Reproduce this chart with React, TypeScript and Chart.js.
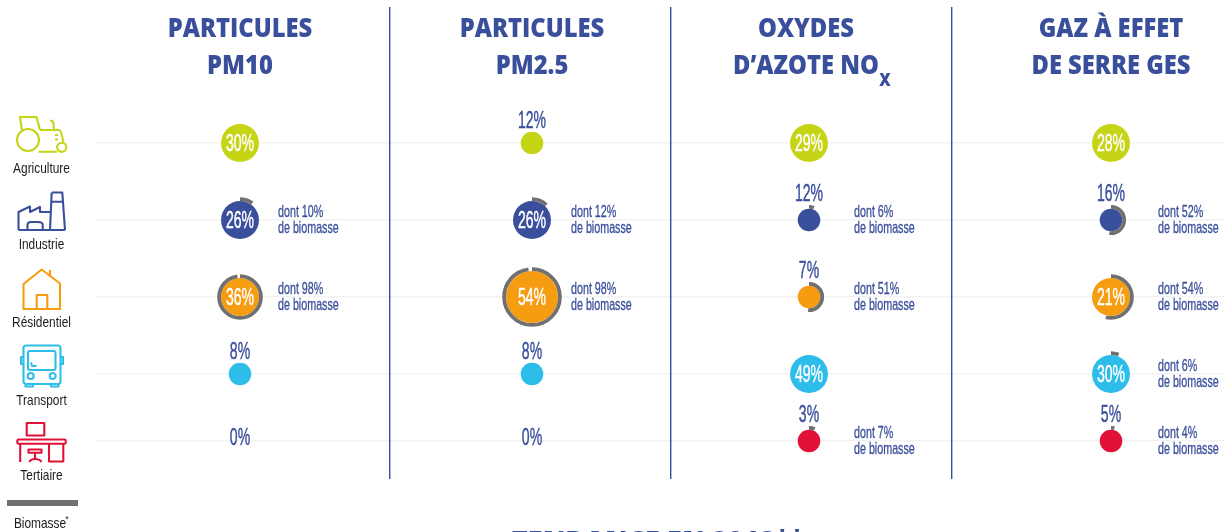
import React, { useEffect, useRef } from "react";
import { Chart, registerables } from "chart.js";

Chart.register(...registerables);

const SECTORS = ["Agriculture", "Industrie", "Résidentiel", "Transport", "Tertiaire"];
const SECTOR_COLORS = ["#c6d416", "#3a4f9c", "#f69c10", "#2dbdea", "#e01038"];
const POLLUTANT_TITLES = [
  ["PARTICULES", "PM10"],
  ["PARTICULES", "PM2.5"],
  ["OXYDES", "D’AZOTE NO"],
  ["GAZ À EFFET", "DE SERRE GES"],
];
const PM10_SHARE = [30, 26, 36, 8, 0];
const PM10_BIOMASS = [0, 10, 98, 0, 0];
const PM25_SHARE = [12, 26, 54, 8, 0];
const PM25_BIOMASS = [0, 12, 98, 0, 0];
const NOX_SHARE = [29, 12, 7, 49, 3];
const NOX_BIOMASS = [0, 6, 51, 0, 7];
const GES_SHARE = [28, 16, 21, 30, 5];
const GES_BIOMASS = [0, 52, 54, 6, 4];
const SHARES = [PM10_SHARE, PM25_SHARE, NOX_SHARE, GES_SHARE];
const BIOMASS = [PM10_BIOMASS, PM25_BIOMASS, NOX_BIOMASS, GES_BIOMASS];

// axis layout
const COLUMN_POSITIONS = [240, 532, 809, 1111];
const TITLE_POSITIONS = [240, 532, 806, 1111];
const NOTE_POSITIONS = [278, 571, 854, 1158];
const COLUMN_SEPARATORS = [390, 670.5, 951.5];
const ROW_POSITIONS = [143, 220, 297, 374, 441];

const NAVY = "#3a4f9c";
const GREY = "#707070";
const NARROW = '"Liberation Sans", sans-serif';
const TITLE_FONT = '"Open Sans", sans-serif';

const radiusFor = (share: number) =>
  share === 0 ? 0 : share < 20 ? 11.3 : share < 50 ? 19 : 26;

const ICONS = [
  "M19 117H36.5L40 130M20 117L22 131M40 130H58.5Q61 130 62 136L63.5 142M38.5 151.7H57M50 120.5Q53 120.5 53.5 123L54 130M55 135H58M55 139.5H58M39 140A11 11 0 1 1 17 140A11 11 0 1 1 39 140M66.3 147.3A4.6 4.6 0 1 1 57.1 147.3A4.6 4.6 0 1 1 66.3 147.3",
  "M18.5 230V212L30 206.5V212L40 207V212H50M18.5 230H65M51.7 192.5H62.3L65 230M51.7 192.5L50 230M51.2 201.7H63M27.5 230V225Q27.5 222 31 222H38Q42.7 222 42.7 225V230",
  "M23.5 309V284L41.7 269.5L60 283.5V309ZM50 270V276M36.7 309V295H47.3V309",
  "M26 345.5H58Q60.5 345.5 60.5 348V381Q60.5 384 58 384H26Q23.5 384 23.5 381V348Q23.5 345.5 26 345.5ZM30 351H53.5Q55.5 351 55.5 353V368Q55.5 370 53.5 370H30Q28 370 28 368V353Q28 351 30 351ZM23.5 357H21V364H23.5M60.5 357H63V364H60.5M31 362.5L32 366H36.5M33.7 376A3 3 0 1 1 27.7 376A3 3 0 1 1 33.7 376M55.7 376A3 3 0 1 1 49.7 376A3 3 0 1 1 55.7 376M25.5 384V386.5H33V384M51 384V386.5H58.5V384",
  "M26.7 423H44.3V435.5H26.7ZM18.5 439.5H64.5Q65.8 439.5 65.8 441.5Q65.8 443.7 64.5 443.7H18.5Q17.3 443.7 17.3 441.5Q17.3 439.5 18.5 439.5ZM20.2 443.7V462M49 443.7V461.5H63.3V443.7M28.5 449.5H41.5V452.7H28.5ZM35 452.7V459M29.5 462Q30.5 459 35 459Q40 459 41.5 462",
];

type TextOpts = { font: string; color: string; stretch?: number; align?: CanvasTextAlign; heavy?: number };

function put(ctx: CanvasRenderingContext2D, text: string, x: number, y: number, o: TextOpts) {
  ctx.save();
  ctx.font = o.font;
  ctx.fillStyle = o.color;
  ctx.textAlign = o.align ?? "center";
  ctx.textBaseline = "middle";
  ctx.translate(x, y);
  ctx.scale(o.stretch ?? 1, 1);
  ctx.fillText(text, 0, 0);
  if (o.heavy) {
    ctx.strokeStyle = o.color;
    ctx.lineWidth = o.heavy;
    ctx.strokeText(text, 0, 0);
  }
  ctx.restore();
}

const overlayPlugin = {
  id: "overlay",
  afterDatasetsDraw(chart: any) {
    const ctx: CanvasRenderingContext2D = chart.ctx;
    chart.data.datasets.forEach((ds: any, col: number) => {
      const meta = chart.getDatasetMeta(col);
      ds.data.forEach((d: any, row: number) => {
        const el = meta.data[row];
        const { x, y } = el.getProps(["x", "y"]);
        const share = d.share;
        const biomass = d.biomass;
        const r = d.r;
        if (biomass > 0) {
          ctx.save();
          ctx.strokeStyle = GREY;
          ctx.lineWidth = 3.8;
          ctx.beginPath();
          const start = -Math.PI / 2;
          ctx.arc(x, y, r + 1.9, start, start + (biomass / 100) * Math.PI * 2);
          ctx.stroke();
          ctx.restore();
        }
        const inside = r >= 19;
        const labelY = inside ? y + 2 : r === 0 ? y - 2 : y - (biomass > 0 ? 25 : 21.5);
        put(ctx, `${share}%`, x, labelY, {
          font: `23px ${NARROW}`,
          color: inside ? "#ffffff" : NAVY,
          stretch: 0.61,
          heavy: 0.45,
        });
        if (biomass > 0) {
          const nx = NOTE_POSITIONS[col];
          const note = { font: `16.5px ${NARROW}`, color: NAVY, stretch: 0.65, align: "left" as CanvasTextAlign, heavy: 0.3 };
          put(ctx, `dont ${biomass}%`, nx, ROW_POSITIONS[row] - 7.5, note);
          put(ctx, "de biomasse", nx, ROW_POSITIONS[row] + 8.5, note);
        }
      });
    });
    POLLUTANT_TITLES.forEach((lines, col) => {
      lines.forEach((line, i) => {
        put(ctx, line, TITLE_POSITIONS[col], 29 + i * 37, {
          font: `800 27px ${TITLE_FONT}`,
          color: NAVY,
          stretch: 0.88,
        });
      });
    });
    put(ctx, "X", 885, 81, { font: `800 18px ${TITLE_FONT}`, color: NAVY, stretch: 0.88 });
    put(ctx, "TENDANCE EN 2018**", 658, 543, { font: `800 29px ${TITLE_FONT}`, color: NAVY, stretch: 0.935 });
    const labelY = [168.5, 244.5, 323, 400.5, 476];
    SECTORS.forEach((name, i) => {
      ctx.save();
      ctx.strokeStyle = SECTOR_COLORS[i];
      ctx.lineWidth = 2.1;
      ctx.lineJoin = "round";
      ctx.stroke(new Path2D(ICONS[i]));
      ctx.restore();
      put(ctx, name, 41.5, labelY[i], { font: `14.5px ${NARROW}`, color: "#1d1d1b", stretch: 0.82 });
    });
    ctx.save();
    ctx.fillStyle = GREY;
    ctx.fillRect(7, 500, 71, 6);
    ctx.restore();
    put(ctx, "Biomasse", 40, 524, { font: `14.5px ${NARROW}`, color: "#1d1d1b", stretch: 0.82 });
    put(ctx, "*", 67, 520, { font: `9px ${NARROW}`, color: "#1d1d1b" });
  },
};

export default function App() {
  const ref = useRef<HTMLCanvasElement>(null);
  useEffect(() => {
    document.body.style.margin = "0";
    const datasets = COLUMN_POSITIONS.map((x, col) => ({
      label: POLLUTANT_TITLES[col].join(" "),
      data: SHARES[col].map((share, row) => ({
        x,
        y: ROW_POSITIONS[row],
        r: radiusFor(share),
        share,
        biomass: BIOMASS[col][row],
      })),
      backgroundColor: SECTOR_COLORS,
      borderWidth: 0,
      hoverRadius: 0,
      clip: false as const,
    }));
    const chart = new Chart(ref.current!, {
      type: "bubble",
      data: { datasets },
      plugins: [overlayPlugin],
      options: {
        animation: false,
        responsive: false,
        layout: { autoPadding: false, padding: { left: 96, right: 4, top: 7, bottom: 53 } },
        plugins: { legend: { display: false }, tooltip: { enabled: false } },
        scales: {
          x: {
            type: "linear",
            min: 96,
            max: 1225,
            afterBuildTicks: (s: any) => {
              s.ticks = COLUMN_SEPARATORS.map((value) => ({ value }));
            },
            ticks: { display: false },
            border: { display: false },
            grid: { color: NAVY, lineWidth: 1.4, drawTicks: false },
          },
          y: {
            type: "linear",
            reverse: true,
            min: 7,
            max: 479,
            afterBuildTicks: (s: any) => {
              s.ticks = ROW_POSITIONS.map((value) => ({ value }));
            },
            ticks: { display: false },
            border: { display: false },
            grid: { color: "rgba(0,0,0,0.05)", lineWidth: 1.4, drawTicks: false },
          },
        },
      },
    });
    return () => chart.destroy();
  }, []);
  return <canvas ref={ref} width={1229} height={532} style={{ display: "block" }} />;
}
